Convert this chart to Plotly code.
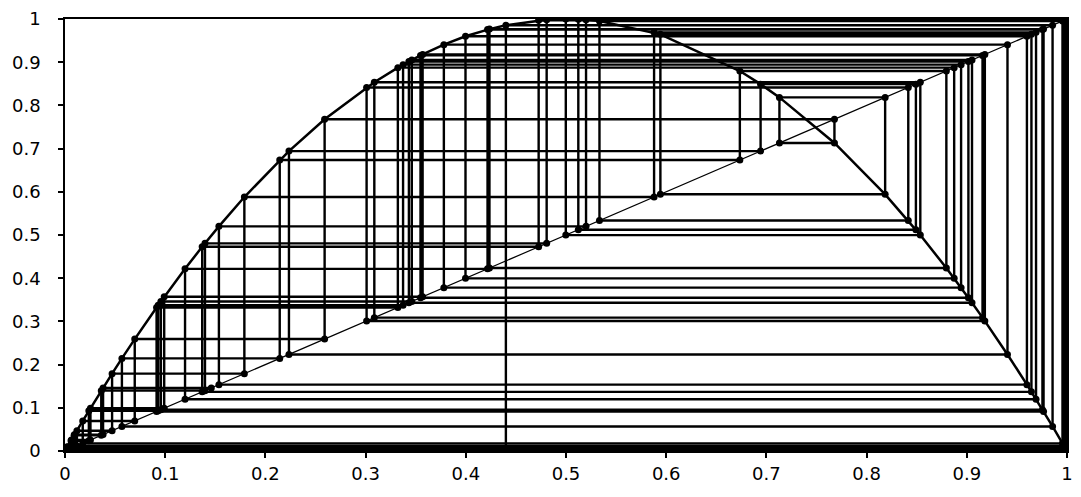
import plotly.graph_objects as go

# Orbit values of the map read from the cobweb (x_n, each feeding the next)
orbit = [0.44, 0.9856, 0.0568, 0.2143, 0.6735, 0.8796, 0.4236, 0.9766, 0.0914, 0.3322,
         0.8874, 0.3997, 0.9600, 0.1536, 0.5200, 0.9984, 0.0064, 0.0254, 0.0990, 0.3569,
         0.9180, 0.3010, 0.8416, 0.5334, 0.9955, 0.0177, 0.0696, 0.2591, 0.7679, 0.7130,
         0.8185, 0.5942, 0.9645, 0.1369, 0.4727, 0.9970, 0.0119, 0.0470, 0.1790, 0.5879,
         0.9691, 0.1198, 0.4217, 0.9755, 0.0957, 0.3461, 0.9052, 0.3432, 0.9016, 0.3548,
         0.9157, 0.3087, 0.8536, 0.4998, 1.0000, 0.0000006, 0.0000022, 0.000009, 0.000036,
         0.00014, 0.00057, 0.0023, 0.0091, 0.0362, 0.1397, 0.4807, 0.9985, 0.0060, 0.0238,
         0.0930, 0.3374, 0.8943, 0.3781, 0.9406, 0.2235, 0.6942, 0.8492, 0.5123, 0.9994,
         0.0024, 0.0096, 0.0380, 0.1460]

diag_x = [0, 1]
diag_y = [0, 1]

tick_vals = [0, 0.1, 0.2, 0.3, 0.4, 0.5, 0.6, 0.7, 0.8, 0.9, 1]
tick_text = ["0", "0.1", "0.2", "0.3", "0.4", "0.5", "0.6", "0.7", "0.8", "0.9", "1"]

# Map curve: points (x_n, x_{n+1}) sorted by x
pairs = sorted(zip(orbit[:-1], orbit[1:]))
curve_x = [p[0] for p in pairs]
curve_y = [p[1] for p in pairs]

# Cobweb path
web_x = [orbit[0]]
web_y = [0]
for a, b in zip(orbit[:-1], orbit[1:]):
    web_x += [a, b]
    web_y += [b, b]

fig = go.Figure()
fig.add_trace(go.Scatter(x=diag_x, y=diag_y, mode="lines",
                         line=dict(color="black", width=1.2), hoverinfo="skip"))
fig.add_trace(go.Scatter(x=curve_x, y=curve_y, mode="lines",
                         line=dict(color="black", width=2.5), hoverinfo="skip"))
fig.add_trace(go.Scatter(x=web_x, y=web_y, mode="lines+markers",
                         line=dict(color="black", width=2.4),
                         marker=dict(color="black", size=7), hoverinfo="skip"))

font = dict(family="DejaVu Sans", size=18, color="black")
axis_common = dict(range=[0, 1], tickvals=tick_vals, ticktext=tick_text,
                   showgrid=False, zeroline=False, showline=True, linecolor="black",
                   linewidth=1.5, mirror=True, ticks="outside", ticklen=5,
                   tickcolor="black", tickwidth=1.5)

fig.update_layout(
    width=1081, height=497,
    margin=dict(l=65, r=8, t=17, b=46),
    plot_bgcolor="white", paper_bgcolor="white",
    showlegend=False,
    xaxis=dict(**axis_common, tickfont=font, ticklabelstandoff=1),
    yaxis=dict(**axis_common, tickfont=font, ticklabelstandoff=14),
)

fig.write_html("out.html")
